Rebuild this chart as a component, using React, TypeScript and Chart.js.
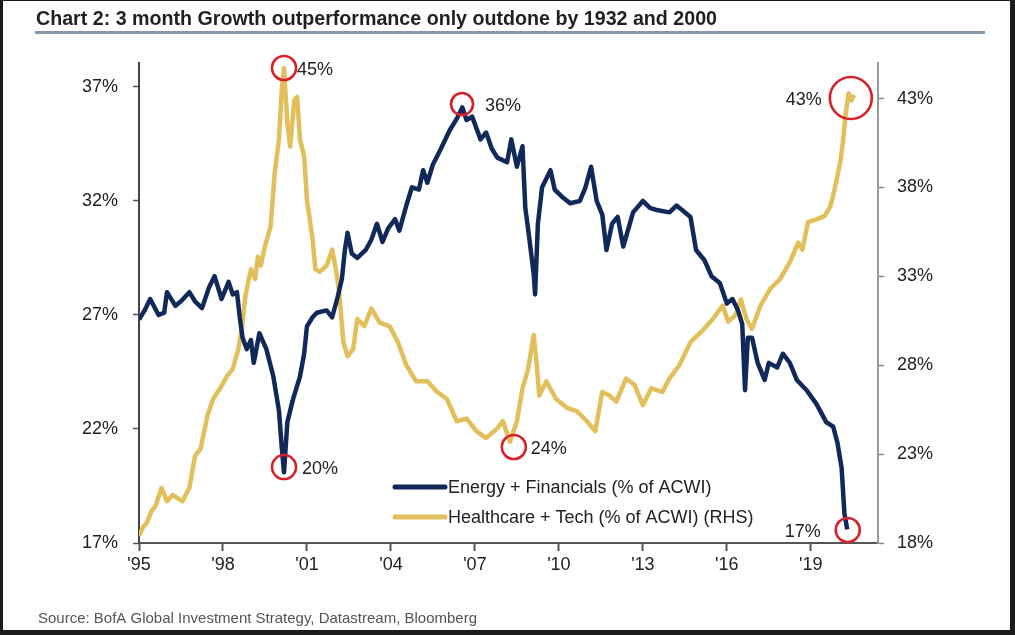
import React, { useEffect, useRef } from "react";
import { Chart, registerables } from "chart.js";

Chart.register(...registerables);

const titleText = "Chart 2: 3 month Growth outperformance only outdone by 1932 and 2000";
const sourceText = "Source: BofA Global Investment Strategy, Datastream, Bloomberg";
const seriesLabels = ["Energy + Financials (% of ACWI)", "Healthcare + Tech (% of ACWI) (RHS)"];

const xTickYears = [1995, 1998, 2001, 2004, 2007, 2010, 2013, 2016, 2019];
const leftTicks = [17, 22, 27, 32, 37];
const rightTicks = [18, 23, 28, 33, 38, 43];

const energyFinYears = [
  1995.0, 1995.2, 1995.4, 1995.7, 1995.9, 1996.0, 1996.3, 1996.5, 1996.8, 1997.0,
  1997.25, 1997.5, 1997.7, 1997.95, 1998.2, 1998.35, 1998.5, 1998.6, 1998.7, 1998.85,
  1999.0, 1999.1, 1999.3, 1999.55, 1999.8, 2000.0, 2000.1, 2000.18, 2000.3, 2000.5,
  2000.75, 2000.9, 2001.0, 2001.2, 2001.35, 2001.7, 2001.9, 2002.1, 2002.25, 2002.35,
  2002.45, 2002.6, 2002.8, 2003.1, 2003.3, 2003.5, 2003.7, 2003.9, 2004.15, 2004.3,
  2004.55, 2004.75, 2005.0, 2005.15, 2005.3, 2005.5, 2005.75, 2006.1, 2006.35, 2006.55,
  2006.7, 2006.9, 2007.2, 2007.4, 2007.6, 2007.8, 2008.15, 2008.3, 2008.5, 2008.7,
  2008.8, 2008.95, 2009.1, 2009.15, 2009.25, 2009.4, 2009.7, 2009.85, 2010.1, 2010.4,
  2010.75, 2010.95, 2011.15, 2011.35, 2011.55, 2011.7, 2011.9, 2012.1, 2012.3, 2012.65,
  2013.0, 2013.25, 2013.5, 2013.95, 2014.2, 2014.4, 2014.7, 2014.9, 2015.2, 2015.45,
  2015.75, 2016.0, 2016.2, 2016.4, 2016.55, 2016.65, 2016.75, 2016.9, 2017.1, 2017.35,
  2017.5, 2017.8, 2018.0, 2018.25, 2018.5, 2018.85, 2019.2, 2019.55, 2019.8, 2019.95,
  2020.1, 2020.2, 2020.3,
];
const energyFinValues = [
  26.8, 27.2, 27.7, 27.0, 27.1, 28.0, 27.4, 27.6, 28.0, 27.6,
  27.3, 28.2, 28.7, 27.7, 28.45, 27.9, 28.0, 26.9, 26.0, 25.5,
  25.9, 24.9, 26.2, 25.5, 24.3, 22.8, 21.2, 20.1, 22.3, 23.3,
  24.3, 25.3, 26.5, 26.9, 27.1, 27.2, 26.9, 27.8, 28.6, 29.8,
  30.6, 29.7, 29.5, 29.85, 30.3, 31.0, 30.2, 30.8, 31.2, 30.7,
  31.8, 32.6, 32.5, 33.35, 32.8, 33.6, 34.2, 35.1, 35.6, 36.1,
  35.55, 35.7, 34.7, 35.0, 34.3, 33.9, 33.7, 34.7, 33.5, 34.4,
  31.7, 30.3, 28.8, 27.9, 31.0, 32.6, 33.35, 32.5, 32.2, 31.9,
  32.0, 32.6, 33.5, 32.0, 31.4, 29.85, 31.0, 31.3, 30.0, 31.5,
  32.0, 31.7, 31.6, 31.5, 31.8, 31.6, 31.3, 29.85, 29.4, 28.7,
  28.4, 27.5, 27.7, 27.2, 26.6, 23.7, 26.0, 26.0, 24.9, 24.15,
  24.9, 24.7, 25.3, 24.9, 24.15, 23.7, 23.1, 22.3, 22.1, 21.4,
  20.3, 18.3, 17.6,
];

const healthTechYears = [
  1995.0, 1995.15, 1995.3, 1995.45, 1995.6, 1995.8, 1996.0, 1996.2, 1996.4, 1996.55,
  1996.8, 1997.0, 1997.2, 1997.45, 1997.65, 1997.9, 1998.15, 1998.35, 1998.55, 1998.7,
  1998.8, 1999.0, 1999.15, 1999.25, 1999.35, 1999.5, 1999.7, 1999.85, 2000.0, 2000.1,
  2000.18, 2000.3, 2000.4, 2000.55, 2000.65, 2000.75, 2000.9, 2001.0, 2001.2, 2001.3,
  2001.45, 2001.7, 2001.9, 2002.05, 2002.15, 2002.3, 2002.45, 2002.65, 2002.8, 2003.05,
  2003.3, 2003.6, 2003.95, 2004.25, 2004.55, 2004.9, 2005.3, 2005.65, 2006.0, 2006.35,
  2006.7, 2007.05, 2007.4, 2007.8, 2008.0, 2008.25, 2008.5, 2008.7, 2008.9, 2009.1,
  2009.2, 2009.3, 2009.55, 2009.9, 2010.3, 2010.65, 2011.0, 2011.3, 2011.55, 2011.8,
  2012.05, 2012.4, 2012.7, 2013.0, 2013.3, 2013.7, 2013.95, 2014.3, 2014.7, 2015.1,
  2015.5, 2015.85, 2016.05, 2016.3, 2016.5, 2016.7, 2016.9, 2017.2, 2017.55, 2017.9,
  2018.25, 2018.55, 2018.7, 2018.9, 2019.2, 2019.5, 2019.7, 2019.85, 2020.05, 2020.15,
  2020.25, 2020.35, 2020.45, 2020.55,
];
const healthTechValues = [
  18.4, 18.9, 19.2, 19.8, 20.1, 21.1, 20.35, 20.7, 20.5, 20.35,
  21.1, 22.9, 23.3, 25.2, 26.1, 26.7, 27.4, 27.8, 28.9, 30.4,
  31.9, 33.4, 32.85, 34.1, 33.6, 34.7, 35.8, 38.85, 40.7, 43.5,
  44.7, 41.65, 40.3, 42.9, 43.1, 40.7, 39.75, 37.3, 35.1, 33.4,
  33.25, 33.6, 34.5, 33.25, 32.1, 29.3, 28.5, 28.9, 30.6, 30.2,
  31.2, 30.4, 30.2, 29.3, 28.0, 27.1, 27.1, 26.5, 26.1, 24.85,
  25.0, 24.3, 23.9, 24.45, 24.85, 23.7, 24.85, 26.7, 27.8, 29.7,
  28.2, 26.3, 27.1, 26.1, 25.6, 25.4, 24.85, 24.3, 26.5, 26.3,
  25.95, 27.25, 26.9, 25.75, 26.7, 26.5, 27.25, 28.0, 29.3, 29.9,
  30.6, 31.35, 30.45, 30.8, 31.7, 30.6, 30.05, 31.35, 32.3, 32.85,
  33.8, 34.9, 34.5, 36.05, 36.2, 36.4, 36.95, 37.9, 39.4, 40.6,
  42.2, 43.3, 42.9, 43.2,
];

const annotationLabels = ["45%", "36%", "20%", "24%", "43%", "17%"];
const annotationYears = [2000.18, 2006.54, 2000.18, 2008.39, 2020.43, 2020.32];
const annotationValues = [44.72, 36.25, 20.33, 23.4, 43.03, 17.57];
const annotationAxes = ["y1", "y", "y", "y1", "y1", "y"];

// styles
const NAVY = "#11295a";
const GOLD = "#e2bf5b";
const RED = "#d7222a";
const TEXT = "#222222";
const annotationRadius = [12, 11, 12, 12, 21, 12];
const annotationLabelDx = [13, 23, 18, 17, -29, -27];

const overlayPlugin = {
  id: "overlay",
  beforeDraw(chart: any) {
    const ctx = chart.ctx;
    ctx.save();
    ctx.fillStyle = "#ffffff";
    ctx.fillRect(0, 0, chart.width, chart.height);
    ctx.restore();
  },
  afterDraw(chart: any) {
    const ctx = chart.ctx;
    ctx.save();
    // title
    ctx.font = "bold 21px 'Liberation Sans Narrow', 'Liberation Sans', sans-serif";
    ctx.fillStyle = "#231f20";
    ctx.textBaseline = "alphabetic";
    ctx.textAlign = "left";
    const tw = ctx.measureText(titleText).width;
    ctx.save();
    ctx.translate(36, 25);
    ctx.scale(681 / tw, 1);
    ctx.fillText(titleText, 0, 0);
    ctx.restore();
    ctx.fillStyle = "#8797ab";
    ctx.fillRect(35, 31, 950, 3);

    // source
    ctx.font = "15px 'Liberation Sans Narrow', 'Liberation Sans', sans-serif";
    ctx.fillStyle = "#555555";
    const sw = ctx.measureText(sourceText).width;
    ctx.save();
    ctx.translate(38, 623);
    ctx.scale(439 / sw, 1);
    ctx.fillText(sourceText, 0, 0);
    ctx.restore();

    // legend
    chart.data.datasets.forEach((ds: any, i: number) => {
      const y = 487 + i * 30;
      ctx.strokeStyle = ds.borderColor;
      ctx.lineWidth = 5;
      ctx.lineCap = "round";
      ctx.beginPath();
      ctx.moveTo(395, y);
      ctx.lineTo(445, y);
      ctx.stroke();
      ctx.font = "18px 'Liberation Sans', Arial, sans-serif";
      ctx.fillStyle = TEXT;
      ctx.textBaseline = "middle";
      ctx.textAlign = "left";
      ctx.fillText(ds.label, 448, y + 1);
    });

    // annotations
    const xs = chart.scales.x;
    annotationLabels.forEach((lab, i) => {
      const ys = chart.scales[annotationAxes[i]];
      const cx = xs.getPixelForValue(annotationYears[i]);
      const cy = ys.getPixelForValue(annotationValues[i]);
      ctx.strokeStyle = RED;
      ctx.lineWidth = 2.6;
      ctx.beginPath();
      ctx.arc(cx, cy, annotationRadius[i], 0, Math.PI * 2);
      ctx.stroke();
      ctx.font = "18px 'Liberation Sans', Arial, sans-serif";
      ctx.fillStyle = TEXT;
      ctx.textBaseline = "middle";
      const dx = annotationLabelDx[i];
      ctx.textAlign = dx >= 0 ? "left" : "right";
      ctx.fillText(lab, cx + dx, cy + 2);
    });

    // frame
    ctx.fillStyle = "#1b1b1b";
    ctx.fillRect(0, 0, 3, chart.height);
    ctx.fillRect(0, 0, chart.width, 1);
    ctx.fillRect(chart.width - 5, 0, 5, chart.height);
    ctx.fillRect(0, chart.height - 5, chart.width, 5);
    ctx.restore();
  },
};

export default function App() {
  const ref = useRef<HTMLCanvasElement | null>(null);
  useEffect(() => {
    if (!ref.current) return;
    const tickFont = { family: "'Liberation Sans', Arial, sans-serif", size: 18 };
    const chart = new Chart(ref.current, {
      type: "line",
      data: {
        datasets: [
          {
            label: seriesLabels[0],
            data: energyFinYears.map((x, i) => ({ x, y: energyFinValues[i] })),
            borderColor: NAVY,
            backgroundColor: NAVY,
            borderWidth: 4.5,
            borderJoinStyle: "round",
            pointRadius: 0,
            tension: 0,
            yAxisID: "y",
          },
          {
            label: seriesLabels[1],
            data: healthTechYears.map((x, i) => ({ x, y: healthTechValues[i] })),
            borderColor: GOLD,
            backgroundColor: GOLD,
            borderWidth: 4.5,
            borderJoinStyle: "round",
            pointRadius: 0,
            tension: 0,
            yAxisID: "y1",
          },
        ],
      },
      options: {
        responsive: false,
        animation: false,
        devicePixelRatio: 1,
        layout: { padding: { top: 63, left: 0, right: 0, bottom: 0 } },
        plugins: { legend: { display: false }, tooltip: { enabled: false }, title: { display: false } },
        scales: {
          x: {
            type: "linear",
            min: 1995,
            max: 2021.4,
            afterBuildTicks: (axis: any) => {
              axis.ticks = xTickYears.map((v) => ({ value: v }));
            },
            afterFit: (s: any) => {
              s.height = 92;
            },
            ticks: {
              font: tickFont,
              color: TEXT,
              padding: 3,
              maxRotation: 0,
              autoSkip: false,
              callback: (v: any) => "'" + String(v).slice(2),
            },
            grid: { drawOnChartArea: false, drawTicks: true, tickLength: 8, color: "#555", tickWidth: 2 },
            border: { display: true, color: "#555", width: 2 },
          },
          y: {
            type: "linear",
            position: "left",
            min: 17,
            max: 38.05,
            afterBuildTicks: (axis: any) => {
              axis.ticks = leftTicks.map((v) => ({ value: v }));
            },
            afterFit: (s: any) => {
              s.width = 139;
            },
            ticks: { font: tickFont, color: TEXT, padding: 15, callback: (v: any) => v + "%" },
            grid: { drawOnChartArea: false, drawTicks: true, tickLength: 6, color: "#555", tickWidth: 1.5 },
            border: { display: true, color: "#444", width: 2 },
          },
          y1: {
            type: "linear",
            position: "right",
            min: 18,
            max: 45,
            afterBuildTicks: (axis: any) => {
              axis.ticks = rightTicks.map((v) => ({ value: v }));
            },
            afterFit: (s: any) => {
              s.width = 137;
            },
            ticks: { font: tickFont, color: TEXT, padding: 13, callback: (v: any) => v + "%" },
            grid: { drawOnChartArea: false, drawTicks: true, tickLength: 6, color: "#888", tickWidth: 1.5 },
            border: { display: true, color: "#999", width: 2 },
          },
        },
      },
      plugins: [overlayPlugin],
    } as any);
    return () => chart.destroy();
  }, []);
  return (
    <div style={{ position: "fixed", left: 0, top: 0, width: 1015, height: 635, background: "#fff" }}>
      <canvas ref={ref} width={1015} height={635} style={{ width: 1015, height: 635, display: "block" }} />
    </div>
  );
}
